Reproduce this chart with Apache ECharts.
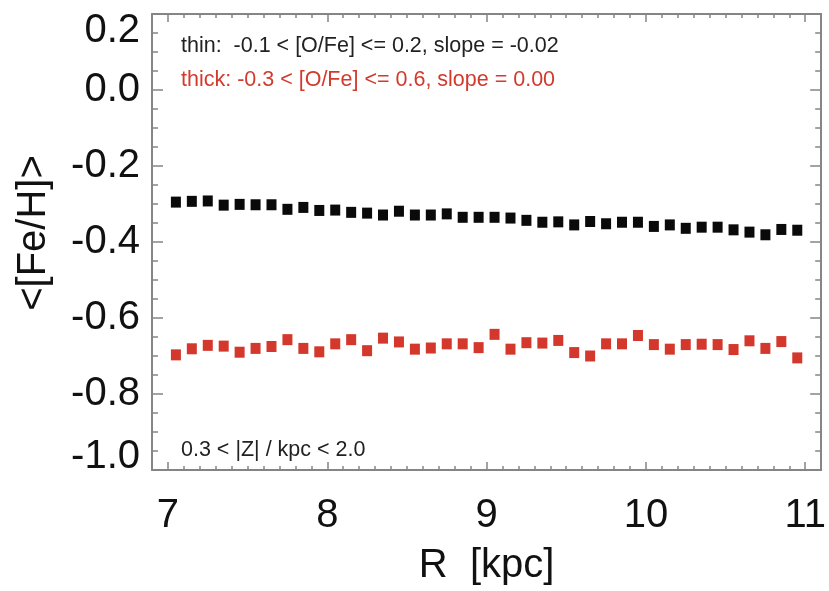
<!DOCTYPE html>
<html><head><meta charset="utf-8">
<script src="https://cdn.jsdelivr.net/npm/echarts@6/dist/echarts.min.js"></script>
<style>html,body{margin:0;padding:0;background:#fff}#c{width:829px;height:591px}</style>
</head><body><div id="c"></div>
<script>
// Galactocentric radius bins (kpc)
const rKpc = [7.05,7.15,7.25,7.35,7.45,7.55,7.65,7.75,7.85,7.95,
              8.05,8.15,8.25,8.35,8.45,8.55,8.65,8.75,8.85,8.95,
              9.05,9.15,9.25,9.35,9.45,9.55,9.65,9.75,9.85,9.95,
              10.05,10.15,10.25,10.35,10.45,10.55,10.65,10.75,10.85,10.95];
// thin disc <[Fe/H]>
const thinFeH = [-0.295,-0.293,-0.292,-0.303,-0.301,-0.302,-0.302,-0.314,-0.309,-0.317,
                 -0.316,-0.322,-0.324,-0.329,-0.319,-0.329,-0.329,-0.326,-0.335,-0.335,
                 -0.335,-0.337,-0.343,-0.348,-0.347,-0.355,-0.346,-0.352,-0.348,-0.348,
                 -0.359,-0.355,-0.364,-0.361,-0.361,-0.368,-0.374,-0.381,-0.367,-0.369];
// thick disc <[Fe/H]>
const thickFeH = [-0.697,-0.681,-0.672,-0.674,-0.690,-0.680,-0.675,-0.657,-0.680,-0.689,
                  -0.668,-0.657,-0.686,-0.653,-0.663,-0.682,-0.679,-0.668,-0.668,-0.678,
                  -0.643,-0.682,-0.665,-0.666,-0.659,-0.691,-0.700,-0.668,-0.668,-0.646,
                  -0.670,-0.682,-0.670,-0.669,-0.670,-0.683,-0.660,-0.680,-0.662,-0.705];
const xMajorTicks = [7, 8, 9, 10, 11];
const xRange = [6.9, 11.1];
const yRange = [-1.0, 0.2];
const thinLabel = 'thin:  -0.1 < [O/Fe] <= 0.2, slope = -0.02';
const thickLabel = 'thick: -0.3 < [O/Fe] <= 0.6, slope = 0.00';
const zLabel = '0.3 < |Z| / kpc < 2.0';

const FONT = '"Liberation Sans", Arial, Helvetica, sans-serif';
const AX = '#858585';
const chart = echarts.init(document.getElementById('c'));

const lineStyle = { color: AX, width: 2 };
const tickStyle = { color: AX, width: 1.5 };
function xAxisBase(pos) {
  return { type: 'value', position: pos, min: xRange[0], max: xRange[1], splitLine: { show: false }, z: 3 };
}

const xAxes = [
  Object.assign(xAxisBase('bottom'), {
    interval: 0.1,
    axisLine: { show: true, onZero: false, lineStyle: lineStyle },
    axisTick: { show: true, inside: true, length: 4, lineStyle: tickStyle },
    axisLabel: {
      show: true, margin: 26, fontSize: 40, color: '#111', fontFamily: FONT, hideOverlap: false,
      formatter: v => (Math.abs(v - Math.round(v)) < 1e-6 && xMajorTicks.includes(Math.round(v))) ? String(Math.round(v)) : ''
    },
    name: 'R  [kpc]', nameLocation: 'middle', nameGap: 76,
    nameTextStyle: { fontSize: 40, color: '#111', fontFamily: FONT }
  }),
  Object.assign(xAxisBase('bottom'), {
    axisLine: { show: false, onZero: false },
    axisTick: { show: true, inside: true, length: 8, lineStyle: tickStyle, customValues: xMajorTicks },
    axisLabel: { show: false }
  }),
  Object.assign(xAxisBase('top'), {
    interval: 0.1,
    axisLine: { show: true, onZero: false, lineStyle: lineStyle },
    axisTick: { show: true, inside: true, length: 4, lineStyle: tickStyle },
    axisLabel: { show: false }
  }),
  Object.assign(xAxisBase('top'), {
    axisLine: { show: false, onZero: false },
    axisTick: { show: true, inside: true, length: 8, lineStyle: tickStyle, customValues: xMajorTicks },
    axisLabel: { show: false }
  })
];

function yAxisBase(pos) {
  return {
    type: 'value', position: pos, min: yRange[0], max: yRange[1], interval: 0.2,
    splitLine: { show: false }, z: 3,
    axisLine: { show: true, onZero: false, lineStyle: lineStyle },
    axisTick: { show: true, inside: true, length: 11, lineStyle: tickStyle },
    minorTick: { show: true, splitNumber: 4, length: 6, lineStyle: tickStyle }
  };
}
const richBase = { fontSize: 40, color: '#111', fontFamily: FONT };
const yAxes = [
  Object.assign(yAxisBase('left'), {
    axisLabel: {
      show: true, margin: 12, fontSize: 40, color: '#111', fontFamily: FONT,
      formatter: v => {
        const s = (Math.abs(v) < 1e-9 ? 0 : v).toFixed(1);
        if (Math.abs(v - 0.2) < 1e-9) return '{t|' + s + '}';
        if (Math.abs(v + 1.0) < 1e-9) return '{b|' + s + '}';
        return s;
      },
      rich: {
        t: Object.assign({ padding: [34, 0, 0, 0] }, richBase),
        b: Object.assign({ padding: [0, 0, 26, 0] }, richBase)
      }
    },
    name: '<[Fe/H]>', nameLocation: 'middle', nameGap: 98,
    nameTextStyle: { fontSize: 40, color: '#111', fontFamily: FONT, padding: [0, 0, 0, 18] }
  }),
  Object.assign(yAxisBase('right'), { axisLabel: { show: false } })
];

chart.setOption({
  animation: false,
  backgroundColor: '#fff',
  grid: { left: 152, right: 4, top: 14, bottom: 120, containLabel: false },
  xAxis: xAxes,
  yAxis: yAxes,
  graphic: [
    { type: 'text', left: 181, top: 35, z: 10, style: { text: thinLabel, fontSize: 21.5, fontFamily: FONT, fill: '#222' } },
    { type: 'text', left: 181, top: 69, z: 10, style: { text: thickLabel, fontSize: 21.5, fontFamily: FONT, fill: '#d23a2e' } },
    { type: 'text', left: 181, top: 439, z: 10, style: { text: zLabel, fontSize: 21.5, fontFamily: FONT, fill: '#222' } }
  ],
  series: [
    { type: 'scatter', name: 'thin', xAxisIndex: 0, yAxisIndex: 0, symbol: 'rect', symbolSize: [10, 11],
      itemStyle: { color: '#0a0a0a', opacity: 1 }, data: rKpc.map((r, i) => [r, thinFeH[i]]) },
    { type: 'scatter', name: 'thick', xAxisIndex: 0, yAxisIndex: 0, symbol: 'rect', symbolSize: [10, 11],
      itemStyle: { color: '#d4372b', opacity: 1 }, data: rKpc.map((r, i) => [r, thickFeH[i]]) }
  ]
});
</script>
</body></html>
